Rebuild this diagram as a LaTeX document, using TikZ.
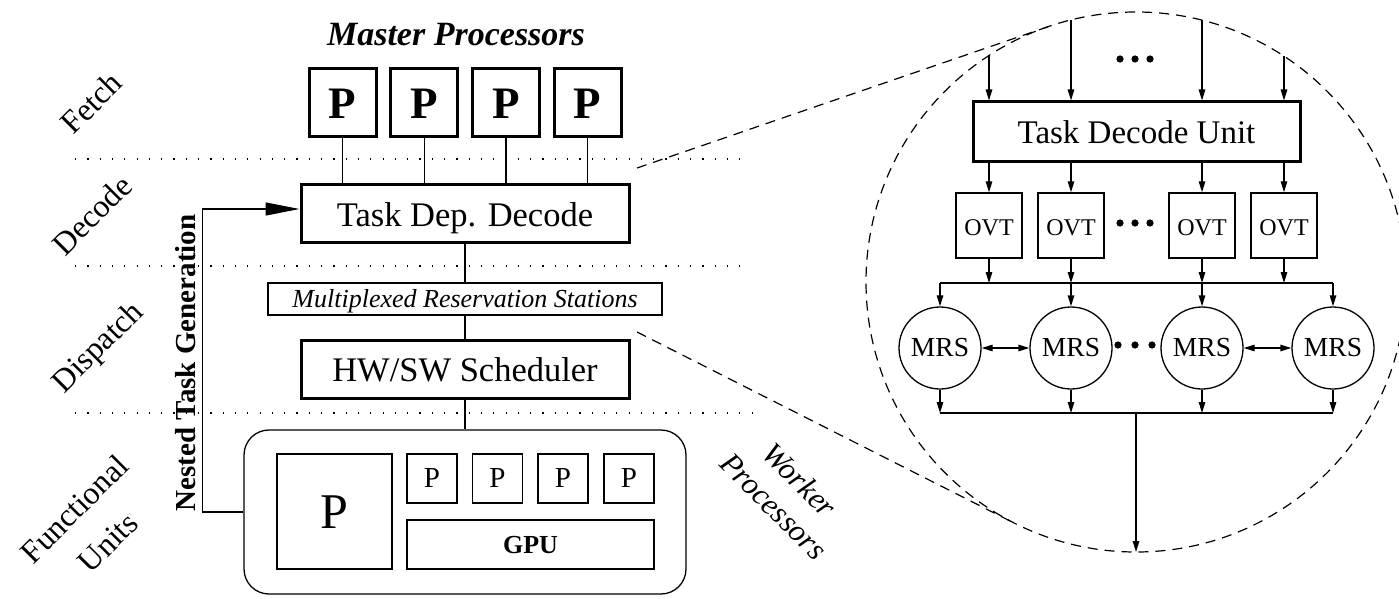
\documentclass[tikz,border=0pt]{standalone}
\usepackage{fontspec}
\setmainfont{Liberation Serif}
\usetikzlibrary{arrows.meta}

\newcommand{\fsz}[2]{\fontsize{#1}{#2}\selectfont}

\tikzset{
  heavy/.style={draw, line width=3pt, inner sep=0pt},
  light/.style={draw, line width=1.3pt, inner sep=0pt},
  wire/.style={line width=1.3pt},
  sepline/.style={line width=1.2pt, dash pattern=on 1.2pt off 11.1pt},
  zoomdash/.style={line width=1.2pt, dash pattern=on 10pt off 7pt},
  stage/.style={rotate=45, align=center, font=\fsz{32}{47}},
  bigtip/.style={wire, -{Triangle[length=34pt,width=13pt]}},
}

\begin{document}
\begin{tikzpicture}[x=1pt, y=-1pt, >={Triangle[length=11pt,width=6.5pt]}]
\useasboundingbox (0,0) rectangle (1399,599);

% pipeline stage separators
\draw[sepline] (75,159) -- (747,159);
\draw[sepline] (75,266) -- (747,266);
\draw[sepline] (75,413) -- (762,413);

% stage names
\node[stage] (sfetch) at (91,103) {Fetch};
\node[stage] (sdecode) at (92,215) {Decode};
\node[stage] (sdispatch) at (99,348.5) {Dispatch};
\node[stage] (sfu) at (91,525.5) {Functional\\Units};

% master processors
\node[anchor=base, font=\fsz{34}{40}\bfseries\itshape] (mtitle) at (456,46) {Master Processors};
\foreach \i/\x in {1/342.5,2/424.2,3/505.9,4/587.6}
  \node[heavy, minimum width=67pt, minimum height=67pt, text height=31pt, text depth=0pt,
        font=\fsz{45}{45}\bfseries] (mp\i) at (\x,102.5) {P};

% decode / dispatch chain
\node[heavy, minimum width=328pt, minimum height=58pt, text height=26pt, text depth=0pt,
      font=\fsz{34.5}{40}] (tdd) at (465,213) {Task Dep. Decode\hspace{21pt}};
\node[light, line width=1.2pt, minimum width=394pt, minimum height=32pt, text height=16pt,
      text depth=0pt, font=\fsz{26}{30}\itshape] (mrsx) at (465,299) {Multiplexed Reservation Stations};
\node[heavy, minimum width=328pt, minimum height=58pt, text height=24pt, text depth=0pt,
      font=\fsz{34.5}{40}] (sched) at (465,369) {HW/SW Scheduler\hspace{12pt}};

% functional units
\node[light, rounded corners=25pt, minimum width=442pt, minimum height=164pt] (rb) at (465,512) {};
\node[light, minimum width=115pt, minimum height=115pt, text height=33pt, text depth=0pt,
      font=\fsz{50}{50}] (bigp) at (334.5,511.5) {P};
\foreach \i/\x in {1/432,2/497.5,3/563,4/629}
  \node[light, minimum width=50pt, minimum height=49pt, text height=18pt, text depth=0pt,
        font=\fsz{29}{29}] (wp\i) at (\x,478.5) {P};
\node[light, minimum width=247pt, minimum height=49pt, text height=17pt, text depth=0pt,
      font=\fsz{26}{30}\bfseries] (gpu) at (530.5,544.5) {GPU};

\node[rotate=-45, align=center, font=\fsz{31}{37}\itshape] (wk) at (787,493) {Worker\\Processors};
\node[rotate=90, anchor=base, font=\fsz{29}{34}\bfseries] (ntg) at (195,363) {Nested Task Generation};

% connections on the left
\foreach \i in {1,...,4}
  \draw[wire] (mp\i.south) -- (mp\i |- tdd.north);
\draw[wire] (tdd.south) -- (mrsx.north);
\draw[wire] (mrsx.south) -- (sched.north);
\draw[wire] (sched.south) -- (rb.north);
\draw[bigtip] (rb.west) -- ++(-41,0) |- ([yshift=4pt]tdd.west);

% magnified view of the decode stage
\begin{scope}
  \clip (0,0) rectangle (1399,599);
  \draw[zoomdash] (1136,282) circle[radius=270pt];
\end{scope}
\coordinate (z1) at (637,168);
\coordinate (t1) at (1048.5,26.6);
\coordinate (z2) at (637,332);
\coordinate (t2) at (1014,523);
\draw[zoomdash] (z1) -- (t1);
\draw[zoomdash] (z2) -- (t2);

\node[heavy, minimum width=327pt, minimum height=59pt, text height=23pt, text depth=0pt,
      font=\fsz{33}{38}] (tdu) at (1136.5,131.5) {Task Decode Unit\hspace{27pt}};
\foreach \i/\x in {1/989,2/1071,3/1202,4/1284}
  \node[light, line width=1.5pt, minimum width=66pt, minimum height=65pt, text height=19pt,
        text depth=0pt, font=\fsz{24}{28}] (ovt\i) at (\x,225.5) {OVT};
\foreach \i/\x in {1/940,2/1071,3/1202,4/1333}
  \node[light, circle, minimum size=82pt, text height=16pt, text depth=0pt,
        font=\fsz{27.5}{32}] (mrs\i) at (\x,348) {MRS};

\coordinate (in1) at (989,55);
\coordinate (in2) at (1071,20);
\coordinate (in3) at (1202,20);
\coordinate (in4) at (1284,56);
\coordinate (bt) at (1136,283);
\coordinate (bb) at (1136,413);
\coordinate (out) at (1136,552);

\foreach \i in {1,...,4} {
  \draw[wire,->] (in\i) -- (in\i |- tdu.north);
  \draw[wire,->] (ovt\i |- tdu.south) -- (ovt\i.north);
  \draw[wire,->] (ovt\i.south) -- (ovt\i |- bt);
  \draw[wire,->] (mrs\i |- bt) -- (mrs\i.north);
  \draw[wire,->] (mrs\i.south) -- (mrs\i |- bb);
}
\draw[wire] (mrs1 |- bt) -- (mrs4 |- bt);
\draw[wire] (mrs1 |- bb) -- (mrs4 |- bb);
\draw[wire,<->] (mrs1.east) -- (mrs2.west);
\draw[wire,<->] (mrs3.east) -- (mrs4.west);
\draw[wire,->] (bb) -- (out);

% ellipsis dots
\foreach \y/\d in {59/15,223/15,345/17}
  \foreach \k in {-1,0,1}
    \fill (1135+\k*\d,\y) circle[radius=3.6pt];
\end{tikzpicture}
\end{document}
